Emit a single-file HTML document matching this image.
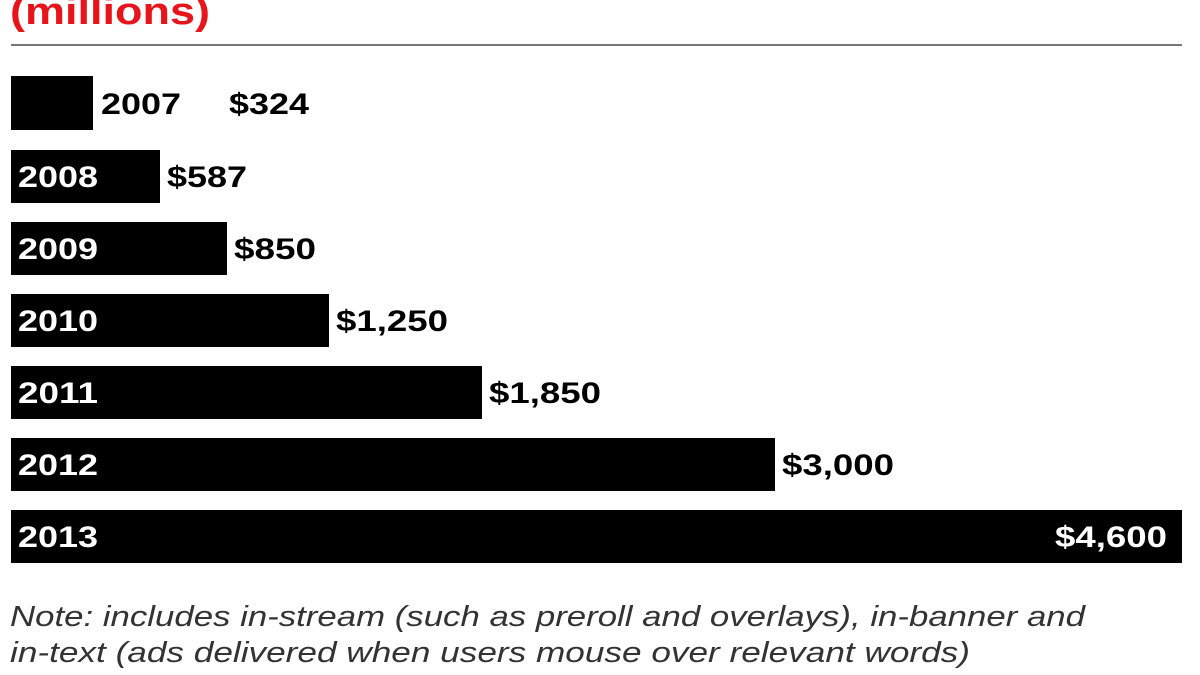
<!DOCTYPE html>
<html><head><meta charset="utf-8"><style>
html,body{margin:0;padding:0;background:#fff;width:1200px;height:675px;overflow:hidden}
svg{display:block}
</style></head><body>
<svg width="1200" height="675" viewBox="0 0 1200 675" font-family="Liberation Sans, sans-serif">
<text x="10" y="24" font-size="38" font-weight="bold" fill="#e8141c" textLength="200" lengthAdjust="spacingAndGlyphs">(millions)</text>
<rect x="11" y="44" width="1171" height="2" fill="#777"/>
<g font-size="30" font-weight="bold">
<rect x="11" y="76" width="82" height="54" fill="#000"/>
<text x="101" y="114" fill="#000" textLength="80" lengthAdjust="spacingAndGlyphs">2007</text>
<text x="229" y="114" fill="#000" textLength="80" lengthAdjust="spacingAndGlyphs">$324</text>

<rect x="11" y="150" width="149" height="53" fill="#000"/>
<text x="18" y="187" fill="#fff" textLength="80" lengthAdjust="spacingAndGlyphs">2008</text>
<text x="167" y="187" fill="#000" textLength="80" lengthAdjust="spacingAndGlyphs">$587</text>

<rect x="11" y="222" width="216" height="53" fill="#000"/>
<text x="18" y="259" fill="#fff" textLength="80" lengthAdjust="spacingAndGlyphs">2009</text>
<text x="234" y="259" fill="#000" textLength="82" lengthAdjust="spacingAndGlyphs">$850</text>

<rect x="11" y="294" width="318" height="53" fill="#000"/>
<text x="18" y="331" fill="#fff" textLength="80" lengthAdjust="spacingAndGlyphs">2010</text>
<text x="336" y="331" fill="#000" textLength="112" lengthAdjust="spacingAndGlyphs">$1,250</text>

<rect x="11" y="366" width="471" height="53" fill="#000"/>
<text x="18" y="403" fill="#fff" textLength="80" lengthAdjust="spacingAndGlyphs">2011</text>
<text x="489" y="403" fill="#000" textLength="112" lengthAdjust="spacingAndGlyphs">$1,850</text>

<rect x="11" y="438" width="764" height="53" fill="#000"/>
<text x="18" y="475" fill="#fff" textLength="80" lengthAdjust="spacingAndGlyphs">2012</text>
<text x="782" y="475" fill="#000" textLength="112" lengthAdjust="spacingAndGlyphs">$3,000</text>

<rect x="11" y="510" width="1171" height="53" fill="#000"/>
<text x="18" y="547" fill="#fff" textLength="80" lengthAdjust="spacingAndGlyphs">2013</text>
<text x="1055" y="547" fill="#fff" textLength="112" lengthAdjust="spacingAndGlyphs">$4,600</text>
</g>
<g font-size="29" font-style="italic" fill="#333">
<text x="10" y="626" textLength="1075" lengthAdjust="spacingAndGlyphs">Note: includes in-stream (such as preroll and overlays), in-banner and</text>
<text x="10" y="662" textLength="960" lengthAdjust="spacingAndGlyphs">in-text (ads delivered when users mouse over relevant words)</text>
</g>
</svg>
</body></html>
